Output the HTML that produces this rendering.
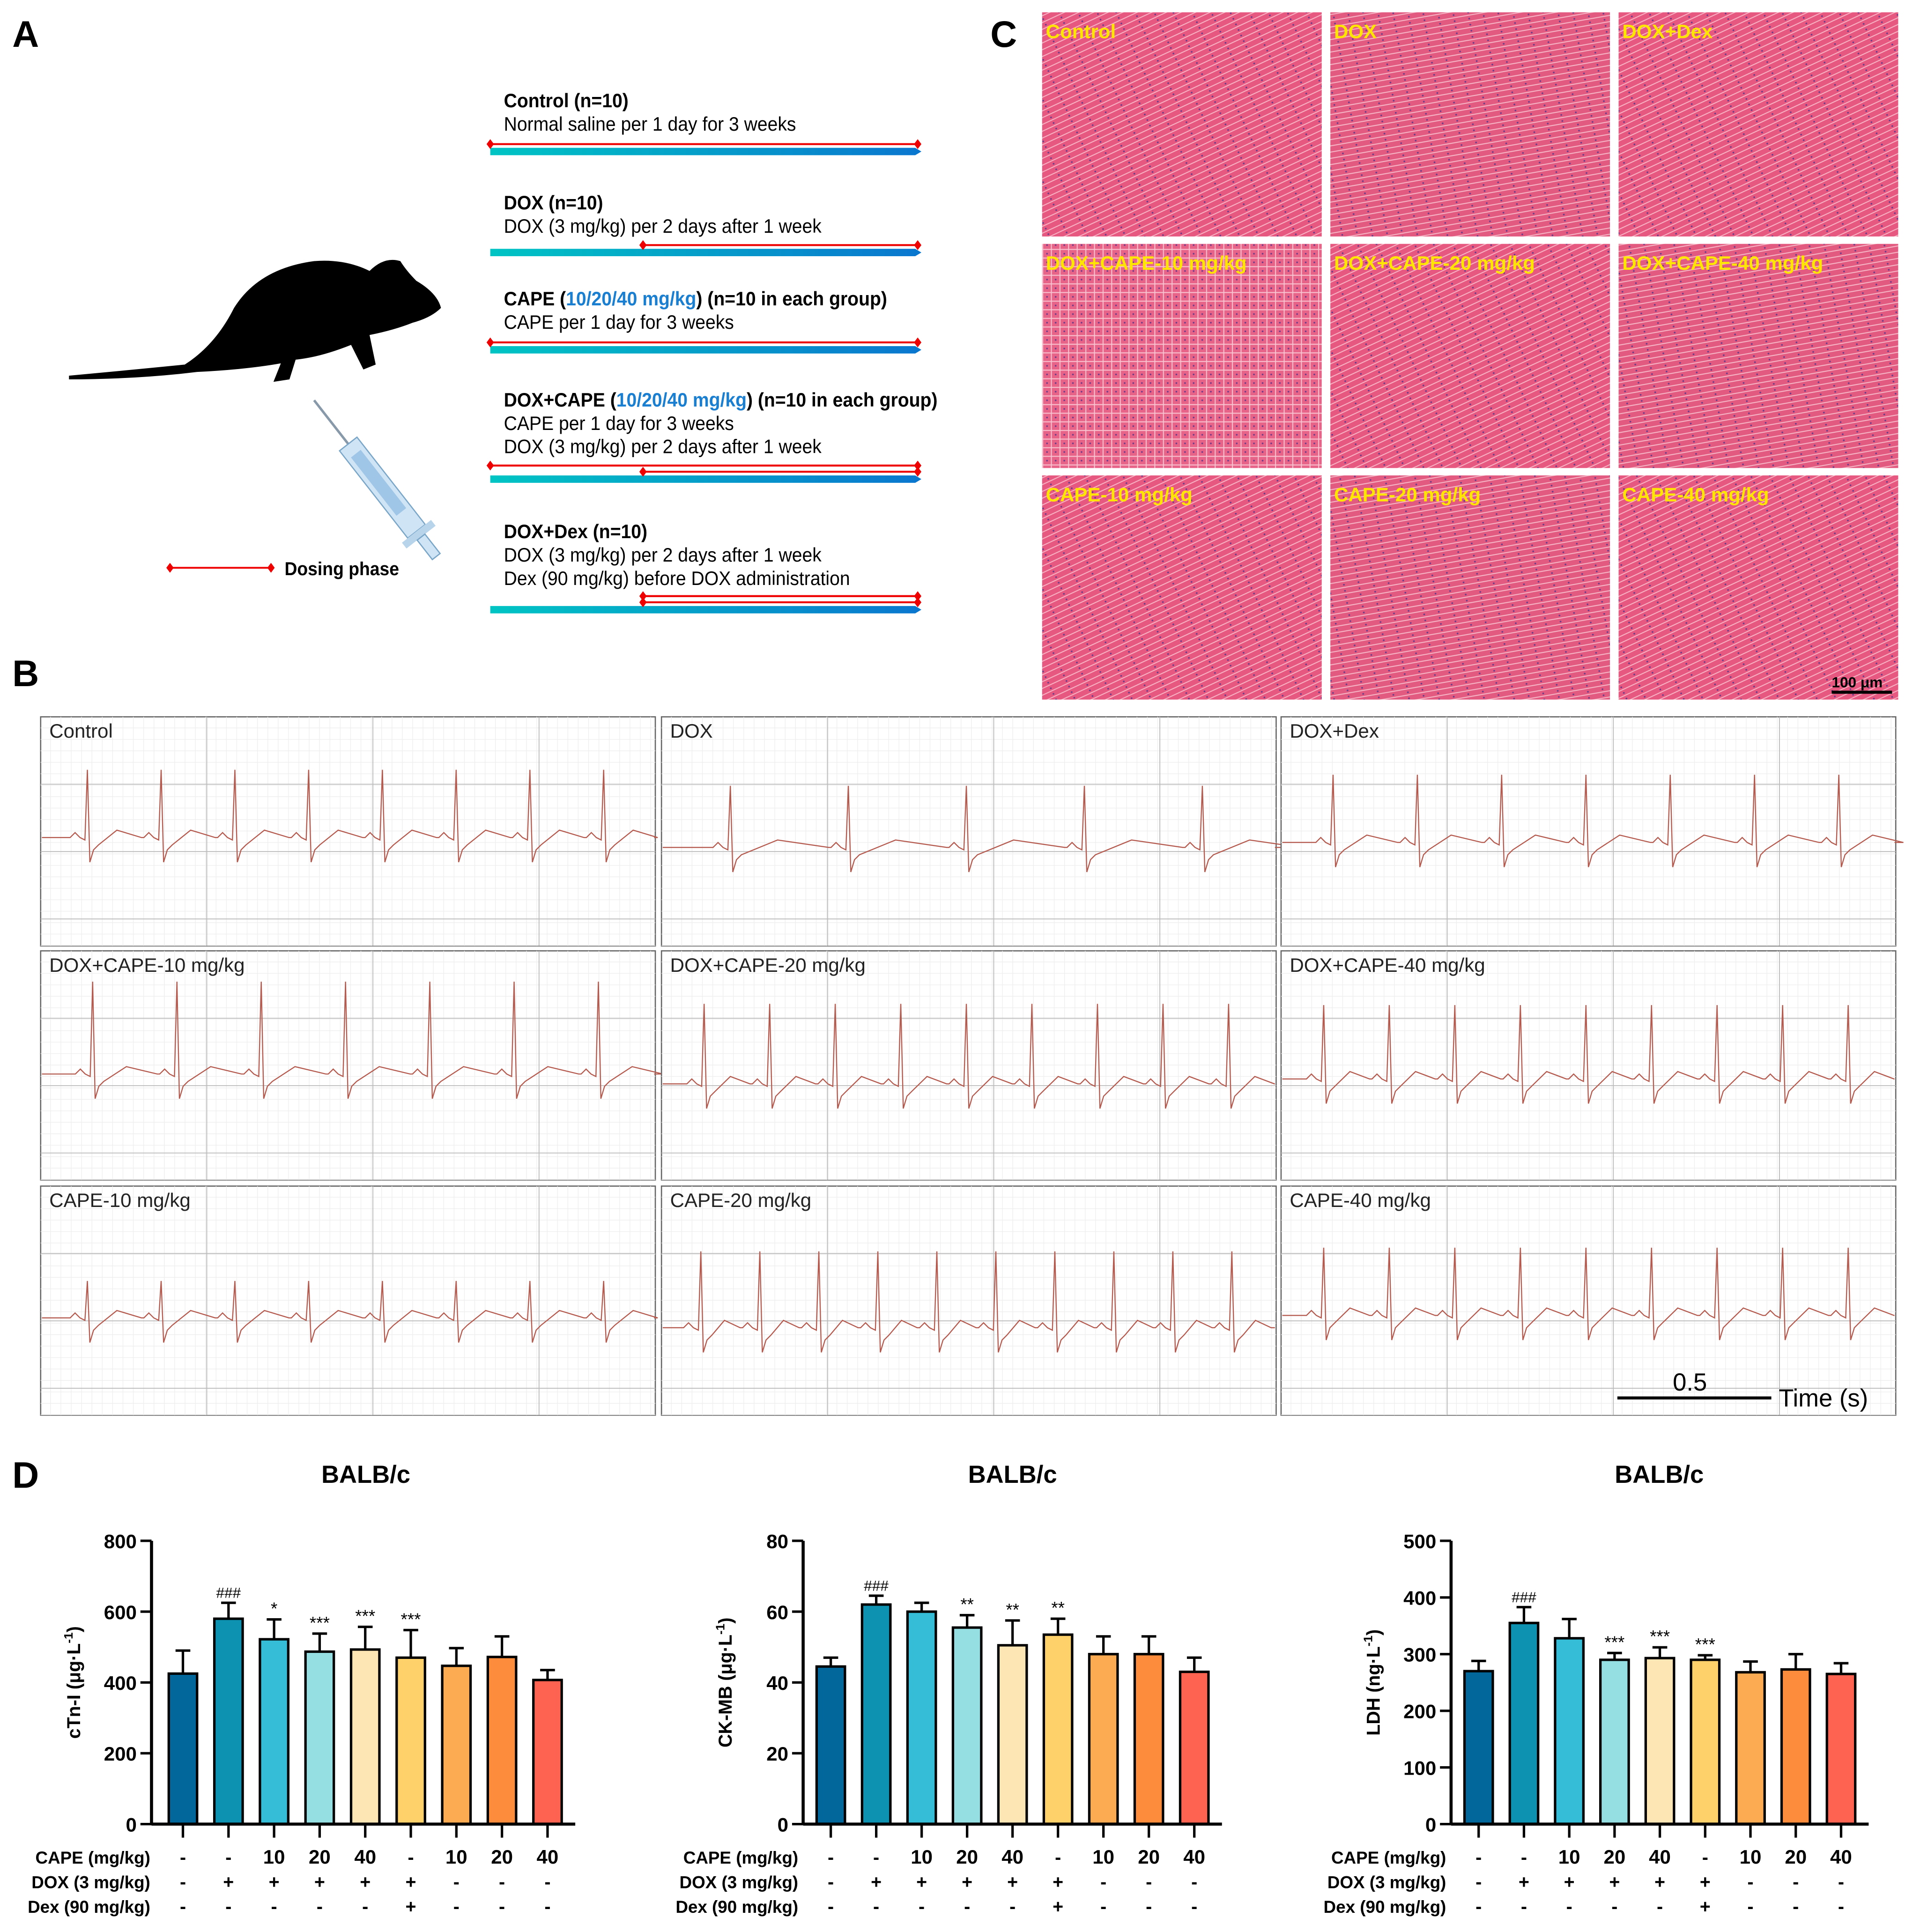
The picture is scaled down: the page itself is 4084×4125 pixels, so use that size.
<!DOCTYPE html>
<html><head><meta charset="utf-8"><style>
html,body{margin:0;padding:0;background:#fff;}
svg{display:block;}
text{font-family:"Liberation Sans",sans-serif;}
.nar{font-family:"Liberation Sans Narrow","Liberation Sans",sans-serif;}
</style></head><body>
<svg id="fig" width="4084" height="4125" viewBox="0 0 1553 1568.6" xmlns="http://www.w3.org/2000/svg">
<defs>
<linearGradient id="tl" x1="0" x2="1"><stop offset="0" stop-color="#00c4c4"/><stop offset="1" stop-color="#0a76cf"/></linearGradient>
<pattern id="fib" width="14" height="5" patternUnits="userSpaceOnUse" patternTransform="rotate(-25)">
<rect width="14" height="5" fill="#e65880"/><rect y="3.8" width="14" height="0.8" fill="#f7b3c4"/><circle cx="5" cy="2" r="0.7" fill="#6b3c8a"/></pattern>
<pattern id="fib2" width="12" height="5" patternUnits="userSpaceOnUse" patternTransform="rotate(-10)">
<rect width="12" height="5" fill="#e25a80"/><rect y="3.8" width="12" height="0.8" fill="#f6b7c6"/><circle cx="8" cy="2" r="0.7" fill="#6b3c8a"/></pattern>
<pattern id="fib3" width="7" height="7" patternUnits="userSpaceOnUse">
<rect width="7" height="7" fill="#e86388"/><path d="M0 6.5H7M6.5 0V7" stroke="#f8c4d0" stroke-width="0.8"/><circle cx="3" cy="3" r="0.7" fill="#6b3c8a"/></pattern>
</defs>

<text x="10" y="38" font-size="30" font-weight="bold">A</text>
<text x="10" y="557" font-size="30" font-weight="bold">B</text>
<text x="804" y="38" font-size="30" font-weight="bold">C</text>
<text x="10" y="1208" font-size="30" font-weight="bold">D</text>

<g>
<path d="M56 305 Q110 300 150 296 Q175 280 190 250 Q210 218 255 212 Q280 210 300 220 Q312 208 325 212 Q330 220 338 228 Q355 238 358 250 Q350 258 335 262 Q320 268 300 272 L305 296 L295 300 L285 280 Q260 290 240 292 L235 308 L222 310 L228 295 Q200 300 160 302 Q110 308 56 308 Z" fill="#000"/>
</g>
<g transform="translate(255,325) rotate(52)">
<rect x="0" y="-1" width="45" height="2" fill="#8899aa"/>
<rect x="45" y="-9" width="90" height="18" fill="#cfe4f5" stroke="#7aa6c8"/>
<rect x="55" y="-5" width="60" height="10" fill="#9fc6e6"/>
<rect x="135" y="-15" width="6" height="30" fill="#b8d4ea"/>
<rect x="141" y="-4" width="20" height="8" fill="#cfe4f5" stroke="#7aa6c8"/>
</g>
<g>
<line x1="138" y1="461" x2="220" y2="461" stroke="#e00" stroke-width="1.5"/>
<path d="M138 457l3 4-3 4-3-4zM220 457l3 4-3 4-3-4z" fill="#e00"/>
<text x="231" y="467" font-size="15" font-weight="bold" class="nar" textLength="93" lengthAdjust="spacingAndGlyphs">Dosing phase</text>
</g>
<g id="timelines"></g>
<g id="histo"></g>
<g id="ecg"></g>
<g id="charts"></g>
</svg>
<script>
const NS='http://www.w3.org/2000/svg';
function mk(parent,tag,attrs,txt){const e=document.createElementNS(NS,tag);for(const k in attrs)e.setAttribute(k,attrs[k]);if(txt!==undefined)e.textContent=txt;parent.appendChild(e);return e;}

const tl=document.getElementById('timelines');
const groups=[
 {y:82,lines:[["Control (n=10)",1],["Normal saline per 1 day for 3 weeks",0]],bar:123,reds:[[398,117]]},
 {y:165,lines:[["DOX (n=10)",1],["DOX (3 mg/kg) per 2 days after 1 week",0]],bar:205,reds:[[522,199]]},
 {y:243,lines:[["CAPE|10/20/40 mg/kg|(n=10 in each group)",1],["CAPE per 1 day for 3 weeks",0]],bar:284,reds:[[398,278]]},
 {y:325,lines:[["DOX+CAPE|10/20/40 mg/kg|(n=10 in each group)",1],["CAPE per 1 day for 3 weeks",0],["DOX (3 mg/kg) per 2 days after 1 week",0]],bar:389,reds:[[398,378],[522,383]]},
 {y:432,lines:[["DOX+Dex (n=10)",1],["DOX (3 mg/kg) per 2 days after 1 week",0],["Dex (90 mg/kg) before DOX administration",0]],bar:495,reds:[[522,484],[522,489]]}
];
groups.forEach((g,gi)=>{
  g.lines.forEach((l,i)=>{
    const t=mk(tl,'text',{x:409,y:g.y+i*19+5,'font-size':16,'font-weight':l[1]?'bold':'normal','class':'nar',transform:'translate(409,0) scale(0.93,1) translate(-409,0)'});
    
    
    if(l[0].includes('|')){const p=l[0].split('|');
      mk(t,'tspan',{},p[0]+' (');mk(t,'tspan',{fill:'#1a7fd0'},p[1]);mk(t,'tspan',{},') '+p[2]);}
    else t.textContent=l[0];
  });
  const b=mk(tl,'path',{d:`M398 ${g.bar-3}H743l5 3-5 3H398Z`,fill:'url(#tl)'});
  
  
  g.reds.forEach(r=>{
    mk(tl,'line',{x1:r[0],y1:r[1],x2:745,y2:r[1],stroke:'#e00','stroke-width':1.6});
    mk(tl,'path',{d:`M${r[0]} ${r[1]-4}l3 4-3 4-3-4zM745 ${r[1]-4}l3 4-3 4-3-4z`,fill:'#e00'});
  });
});

const histo=document.getElementById('histo');
const hLabels=["Control","DOX","DOX+Dex","DOX+CAPE-10 mg/kg","DOX+CAPE-20 mg/kg","DOX+CAPE-40 mg/kg","CAPE-10 mg/kg","CAPE-20 mg/kg","CAPE-40 mg/kg"];
const hx=[846,1080,1314],hy=[10,198,386];
hLabels.forEach((lab,i)=>{
  const x=hx[i%3],y=hy[Math.floor(i/3)];
  const fill=i===3?'url(#fib3)':(i%2?'url(#fib2)':'url(#fib)');
  const r=mk(histo,'rect',{x:x,y:y,width:227,height:182,fill:fill});
  
  
  const t=mk(histo,'text',{x:x+3,y:y+21,'font-size':16,'font-weight':'bold',fill:'#ffe600'},lab);
  
  
});
mk(histo,'line',{x1:1487,y1:562,x2:1536,y2:562,stroke:'#000','stroke-width':2.5});
const sb=mk(histo,'text',{x:1487,y:558,'font-size':12,'font-weight':'bold'},'100 μm');



const ecg=document.getElementById('ecg');
const eLabels=["Control","DOX","DOX+Dex","DOX+CAPE-10 mg/kg","DOX+CAPE-20 mg/kg","DOX+CAPE-40 mg/kg","CAPE-10 mg/kg","CAPE-20 mg/kg","CAPE-40 mg/kg"];
const beatCounts=[8,5,7,7,9,9,8,10,9];
const beatAmp=[55,50,55,75,65,60,30,62,55];
const baseline=[680,688,684,872,880,876,1070,1078,1068];
const ex=[33,537,1040],ey=[582,772,963];
eLabels.forEach((lab,i)=>{
  const x=ex[i%3],y=ey[Math.floor(i/3)],w=499,h=186;
  const g=mk(ecg,'g',{});
  
  
  mk(g,'rect',{x:x,y:y,width:w,height:h,fill:'#fff',stroke:'#666','stroke-width':1});
  for(let gx=x+8;gx<x+w;gx+=8.4)mk(g,'line',{x1:gx,y1:y,x2:gx,y2:y+h,stroke:'#eee','stroke-width':0.5});
  for(let gy=y+9;gy<y+h;gy+=9.3)mk(g,'line',{x1:x,y1:gy,x2:x+w,y2:gy,stroke:'#eee','stroke-width':0.5});
  for(let k=1;k<4;k++){mk(g,'line',{x1:x+k*w/3.7,y1:y,x2:x+k*w/3.7,y2:y+h,stroke:'#bbb','stroke-width':0.7});}
  for(let k=1;k<4;k++){mk(g,'line',{x1:x,y1:y+k*h/3.4,x2:x+w,y2:y+k*h/3.4,stroke:'#bbb','stroke-width':0.7});}
  const t=mk(g,'text',{x:x+7,y:y+17,'font-size':16,fill:'#222'},lab);
  
  
  const n=beatCounts[i],A=beatAmp[i],b=baseline[i];
  const sp=(w-20)/n;
  let d=`M${x+1} ${b}`;
  for(let k=0;k<n;k++){
    const c=x+sp*(k+0.5)+8;
    d+=` L${c-14} ${b} L${c-10} ${b-4} L${c-6} ${b} L${c-2} ${b+2} L${c} ${b-A} L${c+2} ${b+20} L${c+5} ${b+10} L${c+9} ${b+6} L${c+sp*0.4} ${b-6} L${c+sp-16} ${b}`;
  }
  d+=` L${x+w-1} ${b}`;
  const p=mk(g,'path',{d:d,fill:'none',stroke:'#b55a4e','stroke-width':0.9});
  
  
});
mk(ecg,'line',{x1:1313,y1:1135,x2:1438,y2:1135,stroke:'#000','stroke-width':2.5});
const t05=mk(ecg,'text',{x:1358,y:1129,'font-size':20},'0.5');


const tts=mk(ecg,'text',{x:1444,y:1142,'font-size':20},'Time (s)');



const cape=["-","-","10","20","40","-","10","20","40"];
const dox=["-","+","+","+","+","+","-","-","-"];
const dex=["-","-","-","-","-","+","-","-","-"];
const barColors=["#02679a","#0d92b2","#35bcd7","#95dee2","#fde6b4","#fed16b","#fdab52","#fd8c3c","#fe6351"];
const ctniMean=[425,580,522,487,493,470,447,472,407];
const ctniErr=[65,45,56,51,64,78,50,58,28];
const ctniSig=["","###","*","***","***","***","","",""];
const ckMean=[44.5,62,60,55.5,50.5,53.5,48,48,43];
const ckErr=[2.5,2.5,2.5,3.5,7,4.5,5,5,4];
const ckSig=["","###","","**","**","**","","",""];
const ldhMean=[270,355,328,290,293,290,268,273,265];
const ldhErr=[18,28,34,12,19,8,19,27,19];
const ldhSig=["","###","","***","***","***","","",""];
const ctniTicks=[0,200,400,600,800],ckTicks=[0,20,40,60,80],ldhTicks=[0,100,200,300,400,500];

const charts=document.getElementById('charts');
function chart(ax,x0,x1,ymax,ticks,mean,err,sig,ylab,titleX,name){
  const g=mk(charts,'g',{});
  
  
  const yTop=1251,yBot=1481;
  const Y=v=>yBot-(v/ymax)*(yBot-yTop);
  const step=(x1-x0)/9;
  const X=i=>x0+step*(i+0.5);
  const tt=mk(g,'text',{x:titleX,y:1204,'font-size':20,'font-weight':'bold','text-anchor':'middle'},'BALB/c');
  
  
  mean.forEach((m,i)=>{
    const e=mk(g,'line',{x1:X(i),y1:Y(m),x2:X(i),y2:Y(m+err[i]),stroke:'#000','stroke-width':2});
    
    
    mk(g,'line',{x1:X(i)-6,y1:Y(m+err[i]),x2:X(i)+6,y2:Y(m+err[i]),stroke:'#000','stroke-width':2});
    const r=mk(g,'rect',{x:X(i)-11.5,y:Y(m),width:23,height:yBot-Y(m),fill:barColors[i],stroke:'#000','stroke-width':2});
    
    
    if(sig[i]){const s=mk(g,'text',{x:X(i),y:Y(m+err[i])-4,'font-size':sig[i][0]=='#'?12:14,'text-anchor':'middle'},sig[i]);
      
      }
    mk(g,'line',{x1:X(i),y1:yBot,x2:X(i),y2:yBot+11,stroke:'#000','stroke-width':2});
    [[cape,1513],[dox,1533],[dex,1553]].forEach(([arr,yy])=>{
      const c=mk(g,'text',{x:X(i),y:yy,'font-size':arr[i].length>1?16:15,'font-weight':'bold','text-anchor':'middle'},arr[i]);
      
      
    });
  });
  mk(g,'line',{x1:ax,y1:yTop,x2:ax,y2:yBot,stroke:'#000','stroke-width':2.5});
  mk(g,'line',{x1:ax,y1:yBot,x2:x1+4,y2:yBot,stroke:'#000','stroke-width':2.5});
  ticks.forEach(tv=>{
    mk(g,'line',{x1:ax-9,y1:Y(tv),x2:ax,y2:Y(tv),stroke:'#000','stroke-width':2});
    const tx=mk(g,'text',{x:ax-12,y:Y(tv)+6,'font-size':16,'font-weight':'bold','text-anchor':'end'},tv);
    
    
  });
  const yl=mk(g,'text',{x:0,y:0,'font-size':15,'font-weight':'bold','text-anchor':'middle',transform:`translate(${ax-58},${(yTop+yBot)/2}) rotate(-90)`},'');
  
  
  mk(yl,'tspan',{},ylab[0]);mk(yl,'tspan',{dy:-6,'font-size':10},'-1');mk(yl,'tspan',{dy:6},')');
  [["CAPE (mg/kg)",1513],["DOX (3 mg/kg)",1533],["Dex (90 mg/kg)",1553]].forEach(([s,yy])=>{
    const c=mk(g,'text',{x:x0-8,y:yy,'font-size':14,'font-weight':'bold','text-anchor':'end'},s);
    
    
  });
}
chart(123,130,463,800,ctniTicks,ctniMean,ctniErr,ctniSig,["cTn-I (μg·L"],297,'ctni-chart');
chart(652,656,988,80,ckTicks,ckMean,ckErr,ckSig,["CK-MB (μg·L"],822,'ckmb-chart');
chart(1178,1182,1513,500,ldhTicks,ldhMean,ldhErr,ldhSig,["LDH (ng·L"],1347,'ldh-chart');
</script>
</body></html>
